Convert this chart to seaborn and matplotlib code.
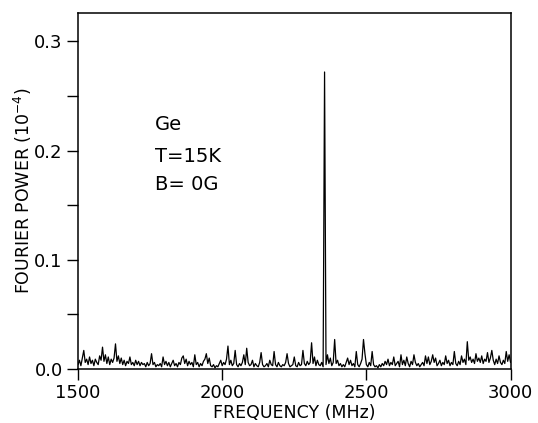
import numpy as np
import matplotlib
matplotlib.use("Agg")
import matplotlib.pyplot as plt
from matplotlib.ticker import MultipleLocator, FormatStrFormatter
import seaborn as sns

# Frequency grid (MHz), 5 MHz steps
freq = np.arange(1500, 3001, 5)

# Fourier power (units of 1e-4) in 100 MHz blocks
p1500 = [0.004, 0.008, 0.003, 0.010, 0.017, 0.006, 0.009, 0.004, 0.011, 0.005,
         0.008, 0.003, 0.009, 0.006, 0.004, 0.012, 0.008, 0.020, 0.007, 0.013]
p1600 = [0.005, 0.011, 0.004, 0.009, 0.006, 0.010, 0.023, 0.007, 0.012, 0.005,
         0.010, 0.004, 0.008, 0.003, 0.007, 0.005, 0.011, 0.004, 0.006, 0.003]
p1700 = [0.008, 0.004, 0.007, 0.003, 0.006, 0.004, 0.005, 0.002, 0.006, 0.003,
         0.005, 0.014, 0.004, 0.006, 0.002, 0.004, 0.003, 0.005, 0.002, 0.011]
p1800 = [0.004, 0.007, 0.003, 0.006, 0.002, 0.005, 0.008, 0.003, 0.005, 0.002,
         0.006, 0.004, 0.010, 0.012, 0.005, 0.009, 0.003, 0.007, 0.004, 0.006]
p1900 = [0.002, 0.013, 0.004, 0.006, 0.002, 0.005, 0.003, 0.007, 0.009, 0.014,
         0.005, 0.010, 0.003, 0.002, 0.004, 0.001, 0.003, 0.002, 0.005, 0.008]
p2000 = [0.003, 0.006, 0.004, 0.009, 0.021, 0.004, 0.008, 0.003, 0.005, 0.017,
         0.004, 0.002, 0.005, 0.003, 0.006, 0.013, 0.004, 0.019, 0.006, 0.003]
p2100 = [0.004, 0.008, 0.002, 0.005, 0.003, 0.002, 0.006, 0.015, 0.004, 0.002,
         0.003, 0.005, 0.002, 0.008, 0.004, 0.003, 0.016, 0.004, 0.002, 0.006]
p2200 = [0.003, 0.002, 0.004, 0.003, 0.006, 0.014, 0.005, 0.002, 0.003, 0.004,
         0.011, 0.003, 0.002, 0.006, 0.003, 0.004, 0.017, 0.005, 0.003, 0.007]
p2300 = [0.004, 0.006, 0.024, 0.005, 0.011, 0.003, 0.008, 0.004, 0.003, 0.006,
         0.002, 0.272, 0.004, 0.013, 0.005, 0.010, 0.003, 0.006, 0.027, 0.005]
p2400 = [0.008, 0.003, 0.005, 0.002, 0.004, 0.002, 0.006, 0.010, 0.004, 0.008,
         0.003, 0.005, 0.002, 0.016, 0.004, 0.002, 0.005, 0.009, 0.027, 0.014]
p2500 = [0.004, 0.002, 0.006, 0.003, 0.016, 0.004, 0.002, 0.003, 0.001, 0.004,
         0.002, 0.005, 0.003, 0.007, 0.004, 0.009, 0.003, 0.006, 0.004, 0.011]
p2600 = [0.003, 0.005, 0.007, 0.002, 0.013, 0.004, 0.008, 0.003, 0.011, 0.005,
         0.002, 0.007, 0.004, 0.013, 0.006, 0.003, 0.005, 0.002, 0.004, 0.006]
p2700 = [0.003, 0.012, 0.005, 0.011, 0.004, 0.007, 0.013, 0.006, 0.010, 0.003,
         0.005, 0.008, 0.003, 0.006, 0.004, 0.012, 0.005, 0.008, 0.003, 0.006]
p2800 = [0.004, 0.016, 0.005, 0.003, 0.007, 0.004, 0.012, 0.006, 0.009, 0.004,
         0.025, 0.008, 0.011, 0.006, 0.009, 0.005, 0.014, 0.007, 0.010, 0.006]
p2900 = [0.012, 0.005, 0.009, 0.007, 0.015, 0.006, 0.010, 0.017, 0.008, 0.004,
         0.009, 0.005, 0.012, 0.006, 0.004, 0.008, 0.005, 0.016, 0.007, 0.013]
p3000 = [0.006]

power = (p1500 + p1600 + p1700 + p1800 + p1900 + p2000 + p2100 + p2200 +
         p2300 + p2400 + p2500 + p2600 + p2700 + p2800 + p2900 + p3000)

xticks = [1500, 2000, 2500, 3000]
yticks = [0.0, 0.1, 0.2, 0.3]
annotations = ["Ge", "T=15K", "B= 0G"]

sns.set_theme(style="ticks")
plt.rcParams['font.family'] = ['DejaVu Sans']
plt.rcParams['text.color'] = 'black'
plt.rcParams['axes.labelcolor'] = 'black'
plt.rcParams['xtick.color'] = 'black'
plt.rcParams['ytick.color'] = 'black'

fig = plt.figure(figsize=(5.38, 4.23), dpi=100)
ax = fig.add_axes([0.145, 0.1277, 0.804, 0.8415])

sns.lineplot(x=freq, y=power, ax=ax, color="black", linewidth=0.9, estimator=None)

ax.set_xlim(1500, 3000)
ax.set_ylim(0, 0.326)
ax.set_xticks(xticks)
ax.set_yticks(yticks)
ax.yaxis.set_minor_locator(MultipleLocator(0.05))
ax.yaxis.set_major_formatter(FormatStrFormatter("%.1f"))
ax.tick_params(axis="both", which="both", direction="out", length=8, width=1.0,
               labelsize=13, colors="black", labelcolor="black", pad=3)
ax.tick_params(axis="y", which="minor", length=8)
for s in ax.spines.values():
    s.set_visible(True)
    s.set_linewidth(1.1)
    s.set_color("black")

ax.set_xlabel("FREQUENCY (MHz)", fontsize=12.5, labelpad=1, color="black")
ax.set_ylabel("FOURIER POWER (10$^{-4}$)", fontsize=12.5, labelpad=0, color="black")

ys = [0.224, 0.1945, 0.169]
for t, y in zip(annotations, ys):
    ax.text(1767, y, t, fontsize=14, ha="left", va="center", color="black")

fig.savefig("out.png", dpi=100)
